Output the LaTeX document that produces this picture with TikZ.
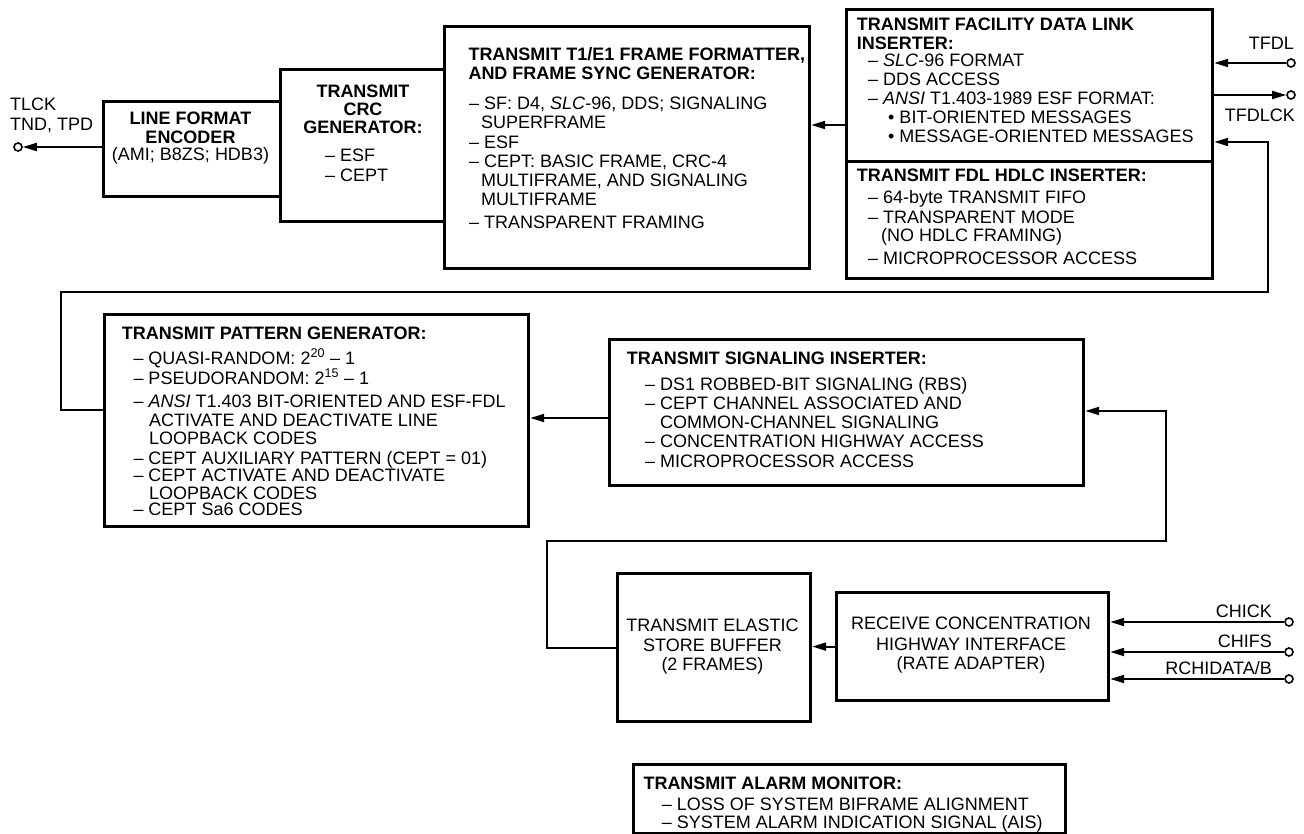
\documentclass[tikz,border=0pt]{standalone}
\usepackage{fontspec}
\setmainfont{Liberation Sans}
\usetikzlibrary{arrows.meta}
\begin{document}
\begin{tikzpicture}[x=1pt,y=-1pt,
  box/.style={draw, line width=3.2pt, inner sep=0pt, anchor=north west},
  wire/.style={line width=2pt},
  arr/.style={wire, -{Triangle[length=14pt,width=8pt]}},
  pin/.style={circle, draw, line width=1.6pt, minimum size=8pt, inner sep=0pt},
  tx/.style={inner sep=0pt, anchor=base west, font=\fontsize{18}{20}\selectfont},
  tb/.style={tx, font=\fontsize{18}{20}\selectfont\bfseries},
  tc/.style={tx, anchor=base},
  tcb/.style={tb, anchor=base},
  tr/.style={tx, anchor=base east}]
\useasboundingbox (0,0) rectangle (1304,834);

% boxes
\node[box, minimum width=177pt, minimum height=95pt]  (lfe)  at (102,100) {};
\node[box, minimum width=164pt, minimum height=152pt] (crc)  at (279,68) {};
\node[box, minimum width=365pt, minimum height=242pt] (t1)   at (443,25) {};
\node[box, minimum width=366pt, minimum height=152pt] (fdlu) at (845,8) {};
\node[box, minimum width=366pt, minimum height=117pt] (fdll) at (845,160) {};
\node[box, minimum width=424pt, minimum height=212pt] (pg)   at (103,313) {};
\node[box, minimum width=474pt, minimum height=146pt] (si)   at (608,338) {};
\node[box, minimum width=193pt, minimum height=148pt] (esb)  at (616,572) {};
\node[box, minimum width=272pt, minimum height=108pt] (ch)   at (835,591) {};
\node[box, minimum width=432pt, minimum height=69pt]  (tam)  at (632,763) {};

% pins
\node[pin] (ptlck)   at (18,147) {};
\node[pin] (ptfdl)   at (1291,63) {};
\node[pin] (ptfdlck) at (1291,95) {};
\node[pin] (pchick)  at (1289,622) {};
\node[pin] (pchifs)  at (1289,652) {};
\node[pin] (prchi)   at (1289,679) {};

% connectors
\draw[arr] (lfe.west |- ptlck) -- (ptlck);
\draw[arr] (ptfdl) -- (ptfdl -| fdlu.east);
\draw[arr] (fdlu.east |- ptfdlck) -- (ptfdlck);
\draw[arr] (fdlu.west |- 0,125) -- (t1.east |- 0,125);
\draw[arr] (pg.west |- 0,410) -| (61,292) -| (1268,142) -- (fdlu.east |- 0,142);
\draw[arr] (si.west |- 0,418) -- (pg.east |- 0,418);
\draw[arr] (esb.west) -| (547,541) -| (1166,411) -- (si.east |- 0,411);
\draw[arr] (ch.west) -- (esb.east |- ch.west);
\draw[arr] (pchick) -- (pchick -| ch.east);
\draw[arr] (pchifs) -- (pchifs -| ch.east);
\draw[arr] (prchi) -- (prchi -| ch.east);

% pin labels
\node[tx] (lTLCK) at (10,110.7) {TLCK};
\node[tx] (lTND)  at (10,130.7) {TND, TPD};
\node[tr] (lTFDL) at (1294,50) {TFDL};
\node[tr] (lTFDLCK) at (1295,121.7) {TFDLCK};
\node[tr] (lCHICK) at (1272,617) {CHICK};
\node[tr] (lCHIFS) at (1272,647) {CHIFS};
\node[tr] (lRCHI)  at (1272,674) {RCHIDATA/B};

% line format encoder
\node[tcb] (lfe1) at (190.5,125) {LINE FORMAT};
\node[tcb] (lfe2) at (190.5,143.3) {ENCODER};
\node[tc]  (lfe3) at (190.5,160.7) {(AMI; B8ZS; HDB3)};

% CRC
\node[tcb] (crc1) at (363,97.3) {TRANSMIT};
\node[tcb] (crc2) at (363,115.5) {CRC};
\node[tcb] (crc3) at (363,134) {GENERATOR:};
\node[tx]  (crc4) at (325,161.7) {– ESF};
\node[tx]  (crc5) at (325,181.7) {– CEPT};

% T1/E1 formatter
\node[tb] (t1a) at (468.3,60.7) {TRANSMIT T1/E1 FRAME FORMATTER,};
\node[tb] (t1b) at (468.3,79.3) {AND FRAME SYNC GENERATOR:};
\node[tx] (t1c) at (469,109.3) {– SF: D4, \textit{SLC}-96, DDS; SIGNALING};
\node[tx] (t1d) at (481,128.3) {SUPERFRAME};
\node[tx] (t1e) at (469,148.3) {– ESF};
\node[tx] (t1f) at (469,167.7) {– CEPT: BASIC FRAME, CRC-4};
\node[tx] (t1g) at (481,186.7) {MULTIFRAME, AND SIGNALING};
\node[tx] (t1h) at (481,206) {MULTIFRAME};
\node[tx] (t1i) at (469,228.3) {– TRANSPARENT FRAMING};

% FDL inserter
\node[tb] (fa) at (856.7,30.7) {TRANSMIT FACILITY DATA LINK};
\node[tb] (fb) at (856.7,49.3) {INSERTER:};
\node[tx] (fc) at (868,66.7) {– \textit{SLC}-96 FORMAT};
\node[tx] (fd) at (868,86) {– DDS ACCESS};
\node[tx] (fe) at (868,105) {– \textit{ANSI} T1.403-1989 ESF FORMAT:};
\node[tx] (ff) at (888,123.3) {• BIT-ORIENTED MESSAGES};
\node[tx] (fg) at (888,142.7) {• MESSAGE-ORIENTED MESSAGES};

% FDL HDLC
\node[tb] (ha) at (856.7,181.7) {TRANSMIT FDL HDLC INSERTER:};
\node[tx] (hb) at (868,204) {– 64-byte TRANSMIT FIFO};
\node[tx] (hc) at (868,223.3) {– TRANSPARENT MODE};
\node[tx] (hd) at (881,241.5) {(NO HDLC FRAMING)};
\node[tx] (he) at (868,265) {– MICROPROCESSOR ACCESS};

% pattern generator
\node[tb] (pa) at (121.7,339.3) {TRANSMIT PATTERN GENERATOR:};
\node[tx] (pb) at (133.3,364) {– QUASI-RANDOM: 2\textsuperscript{20} – 1};
\node[tx] (pc) at (133.3,384) {– PSEUDORANDOM: 2\textsuperscript{15} – 1};
\node[tx] (pd) at (133.3,407.7) {– \textit{ANSI} T1.403 BIT-ORIENTED AND ESF-FDL};
\node[tx] (pe) at (149,426.7) {ACTIVATE AND DEACTIVATE LINE};
\node[tx] (pf) at (149,444) {LOOPBACK CODES};
\node[tx] (pg1) at (133.3,464) {– CEPT AUXILIARY PATTERN (CEPT = 01)};
\node[tx] (ph) at (133.3,481.7) {– CEPT ACTIVATE AND DEACTIVATE};
\node[tx] (pi) at (149,499) {LOOPBACK CODES};
\node[tx] (pj) at (133.3,515.7) {– CEPT Sa6 CODES};

% signaling inserter
\node[tb] (sa) at (626.7,364) {TRANSMIT SIGNALING INSERTER:};
\node[tx] (sb) at (645,390) {– DS1 ROBBED-BIT SIGNALING (RBS)};
\node[tx] (sc) at (645,409.3) {– CEPT CHANNEL ASSOCIATED AND};
\node[tx] (sd) at (660,428.7) {COMMON-CHANNEL SIGNALING};
\node[tx] (se) at (645,447.7) {– CONCENTRATION HIGHWAY ACCESS};
\node[tx] (sf) at (645,467.7) {– MICROPROCESSOR ACCESS};

% elastic store
\node[tc] (ea) at (712.5,631.7) {TRANSMIT ELASTIC};
\node[tc] (eb) at (712.5,651.7) {STORE BUFFER};
\node[tc] (ec) at (712.5,670.5) {(2 FRAMES)};

% concentration highway
\node[tc] (ca) at (971,629.3) {RECEIVE CONCENTRATION};
\node[tc] (cb) at (971,650) {HIGHWAY INTERFACE};
\node[tc] (cc) at (971,669.5) {(RATE ADAPTER)};

% alarm monitor
\node[tb] (aa) at (643.3,789.3) {TRANSMIT ALARM MONITOR:};
\node[tx] (ab) at (661.7,810) {– LOSS OF SYSTEM BIFRAME ALIGNMENT};
\node[tx] (ac) at (661.7,828.3) {– SYSTEM ALARM INDICATION SIGNAL (AIS)};
\end{tikzpicture}
\end{document}
